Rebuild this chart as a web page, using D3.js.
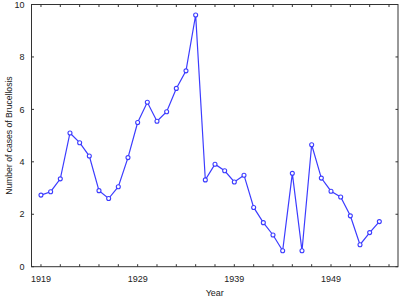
<!DOCTYPE html>
<html><head><meta charset="utf-8">
<script src="https://cdn.jsdelivr.net/npm/d3@7/dist/d3.min.js"></script>
<style>body{margin:0;background:#fff}svg{display:block}</style>
</head><body>
<svg id="c" width="400" height="297"></svg>
<script>
const years = [1919,1920,1921,1922,1923,1924,1925,1926,1927,1928,1929,1930,1931,1932,1933,1934,1935,1936,1937,1938,1939,1940,1941,1942,1943,1944,1945,1946,1947,1948,1949,1950,1951,1952,1953,1954];
const cases = [2.73,2.86,3.35,5.1,4.73,4.22,2.9,2.6,3.05,4.16,5.5,6.27,5.55,5.91,6.8,7.47,9.6,3.31,3.91,3.66,3.23,3.49,2.26,1.68,1.21,0.61,3.56,0.61,4.65,3.38,2.88,2.66,1.94,0.84,1.3,1.72];
const xTickValues = d3.range(1919, 1956, 2);
const xLabelValues = [1919,1929,1939,1949];
const yTickValues = [0,2,4,6,8,10];
const xTitle = "Year";
const yTitle = "Number of cases of Brucellosis";

const L=31.5, R=398, T=4.5, B=266.7;
const svg = d3.select("#c");
const x = d3.scaleLinear().domain([1918.02,1955.93]).range([L,R]);
const y = d3.scaleLinear().domain([0,10]).range([B,T]);
const axisColor = "#333";
const font = "Liberation Sans, Arial, sans-serif";

// frame
svg.append("rect").attr("x",L).attr("y",T).attr("width",R-L).attr("height",B-T)
  .attr("fill","none").attr("stroke",axisColor).attr("stroke-width",1);

// inward ticks
const tl = 2.5;
const g = svg.append("g").attr("stroke",axisColor).attr("stroke-width",1);
xTickValues.forEach(v=>{
  g.append("line").attr("x1",x(v)).attr("x2",x(v)).attr("y1",B).attr("y2",B-tl);
  g.append("line").attr("x1",x(v)).attr("x2",x(v)).attr("y1",T).attr("y2",T+tl);
});
yTickValues.forEach(v=>{
  g.append("line").attr("x1",L).attr("x2",L+tl).attr("y1",y(v)).attr("y2",y(v));
  g.append("line").attr("x1",R).attr("x2",R-tl).attr("y1",y(v)).attr("y2",y(v));
});

// labels
svg.append("g").selectAll("text").data(xLabelValues).join("text")
  .attr("x",d=>x(d)).attr("y",281.5).attr("text-anchor","middle")
  .attr("font-family",font).attr("font-size",9).attr("fill","#222").text(d=>d);
svg.append("g").selectAll("text").data(yTickValues).join("text")
  .attr("x",24.5).attr("y",d=>y(d)+3.2).attr("text-anchor","end")
  .attr("font-family",font).attr("font-size",9).attr("fill","#222").text(d=>d);

svg.append("text").attr("x",(L+R)/2).attr("y",295.5).attr("text-anchor","middle")
  .attr("font-family",font).attr("font-size",9).attr("fill","#222").text(xTitle);
svg.append("text").attr("transform",`translate(12,${(T+B)/2}) rotate(-90)`)
  .attr("text-anchor","middle").attr("font-family",font).attr("font-size",8.6)
  .attr("fill","#222").text(yTitle);

// line
const data = years.map((yr,i)=>({yr, v:cases[i]}));
const col = "#3c3cff";
svg.append("path").datum(data)
  .attr("d", d3.line().x(d=>x(d.yr)).y(d=>y(d.v)))
  .attr("fill","none").attr("stroke",col).attr("stroke-width",1.2);
svg.append("g").selectAll("circle").data(data).join("circle")
  .attr("cx",d=>x(d.yr)).attr("cy",d=>y(d.v)).attr("r",2)
  .attr("fill","#fff").attr("stroke",col).attr("stroke-width",1.1);
</script>
</body></html>
